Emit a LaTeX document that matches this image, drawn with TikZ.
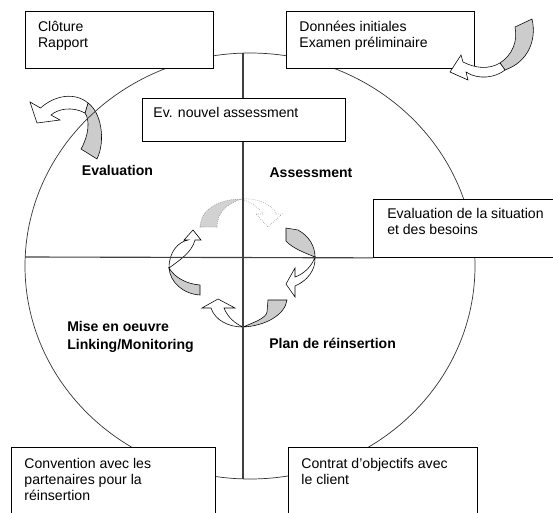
\documentclass[tikz,border=0pt]{standalone}
\usepackage{fontspec}
\setmainfont{Liberation Sans}
\usepackage{tikz}
\usetikzlibrary{calc}

\tikzset{
	infobox/.style={draw, fill=white, line width=0.6pt, anchor=north west, inner sep=0pt},
	boxtext/.style={anchor=north west, align=left, inner sep=0pt, font=\fontsize{10}{11.4}\selectfont},
	phase/.style={font=\bfseries\fontsize{10}{12.3}\selectfont, align=left, inner sep=0pt},
	backside/.style={fill=gray!40, draw=black, line width=0.4pt},
	frontside/.style={fill=white, draw=black, line width=0.4pt},
	ghostback/.style={fill=gray!35, draw=gray, line width=0.4pt, densely dotted},
	ghostfront/.style={fill=white, draw=gray, line width=0.4pt, densely dotted},
	rim/.style={draw=black!80, line width=0.5pt},
	crossline/.style={draw=black!75, line width=0.8pt}
}

\begin{document}
\begin{tikzpicture}[x=0.025cm,y=-0.025cm]
	\useasboundingbox (0,0) rectangle (553,513);
	\clip (0,0) rectangle (553,513);
	% cycle in the middle
	\draw[backside] (286,228) -- (298,230) .. controls (309,236) and (315,246) .. (315,257) .. controls (305,253) and (292,248) .. (286,241) -- cycle;
	\draw[frontside] (315,257) .. controls (316,270) and (307,281) .. (295,286) -- (295,297) -- (286,284) -- (295,268) -- (295,277) .. controls (304,274) and (312,266) .. (315,257) -- cycle;
	\draw[backside] (268,300) -- (287,300) .. controls (285,315) and (265,326) .. (243,327) .. controls (255,322) and (266,318) .. (267,312) -- cycle;
	\draw[frontside] (243,327) .. controls (228,327) and (215,320) .. (211,308) -- (202,308) -- (218,299) -- (235,308) -- (224,308) .. controls (228,318) and (236,324) .. (243,327) -- cycle;
	\draw[backside] (200,285) -- (200,295) .. controls (183,294) and (170,282) .. (169,268) .. controls (175,278) and (187,284) .. (200,285) -- cycle;
	\draw[frontside] (169,268) .. controls (169,252) and (178,242) .. (188,240) -- (184,240) -- (193,230) -- (201,240) -- (195,240) .. controls (192,252) and (180,260) .. (169,268) -- cycle;
	\draw[ghostback] (200,227) .. controls (201,208) and (220,199) .. (242,199) .. controls (228,203) and (217,212) .. (217,227) -- cycle;
	\draw[ghostfront] (242,199) .. controls (258,198) and (272,204) .. (276,214) -- (282,214) -- (268,227) -- (256,214) -- (263,214) .. controls (259,207) and (251,203) .. (242,199) -- cycle;
	% arrow back to the closing
	\draw[backside] (88,103) .. controls (101,112) and (106,140) .. (97,159) -- (81,149) .. controls (89,135) and (90,120) .. (85,113) -- cycle;
	\draw[frontside] (40.5,108) .. controls (55,95) and (75,92) .. (88,103) -- (85,113) .. controls (72,106) and (58,109) .. (51,115) -- (60,120) -- (37,123) -- (30,102) -- cycle;
	% circle and axes
	\coordinate (axtop) at (243,53);
	\coordinate (axbot) at (243,479);
	\coordinate (axleft) at (25.2,257);
	\draw[crossline] (axtop) -- (axbot);
	\draw[rim] (250,266) ellipse [x radius=225, y radius=213];
	% boxes
	\node[infobox, minimum width=4.7cm, minimum height=1.425cm] (cloture) at (25,11) {};
	\node[infobox, minimum width=4.7cm, minimum height=1.425cm] (donnees) at (286,11) {};
	\node[infobox, minimum width=5.075cm, minimum height=1.075cm] (nouvel) at (142,98) {};
	\node[infobox, minimum width=5cm, minimum height=1.45cm] (situation) at (373,199) {};
	\node[infobox, minimum width=5.1cm, minimum height=2.5cm] (convention) at (11,447) {};
	\node[infobox, minimum width=4.725cm, minimum height=2.5cm] (contrat) at (288,447) {};
	\draw[crossline] (axleft) -- (situation.south west);
	\node[boxtext] (clotureT) at ([xshift=0.32cm,yshift=-0.24cm]cloture.north west) {Clôture\\Rapport};
	\node[boxtext] (donneesT) at ([xshift=0.33cm,yshift=-0.24cm]donnees.north west) {Données initiales\\Examen préliminaire};
	\node[boxtext] (nouvelT) at ([xshift=0.28cm,yshift=-0.22cm]nouvel.north west) {Ev. nouvel assessment};
	\node[boxtext] (situationT) at ([xshift=0.35cm,yshift=-0.23cm]situation.north west) {Evaluation de la situation\\et des besoins};
	\node[boxtext] (conventionT) at ([xshift=0.33cm,yshift=-0.27cm]convention.north west) {Convention avec les\\partenaires pour la\\réinsertion};
	\node[boxtext] (contratT) at ([xshift=0.33cm,yshift=-0.27cm]contrat.north west) {Contrat d'objectifs avec\\le client};
	% phases
	\node[phase] (evaluation) at (117.5,170) {Evaluation};
	\node[phase] (assessment) at (311,173) {Assessment};
	\node[phase, anchor=west] (mise) at (67,337) {Mise en oeuvre\\Linking/Monitoring};
	\node[phase, anchor=west] (plan) at (269,343) {Plan de réinsertion};
	% arrow into the first box
	\draw[backside] (500,63) .. controls (512,55) and (518,42) .. (515,27) -- (532,19) .. controls (537,40) and (528,62) .. (505,70) -- cycle;
	\draw[frontside] (463,62) .. controls (475,68) and (488,70) .. (500,63) -- (505,70) .. controls (495,78) and (478,80) .. (466,72) -- (468,80) -- (450,72) -- (461,55) -- cycle;
\end{tikzpicture}
\end{document}
